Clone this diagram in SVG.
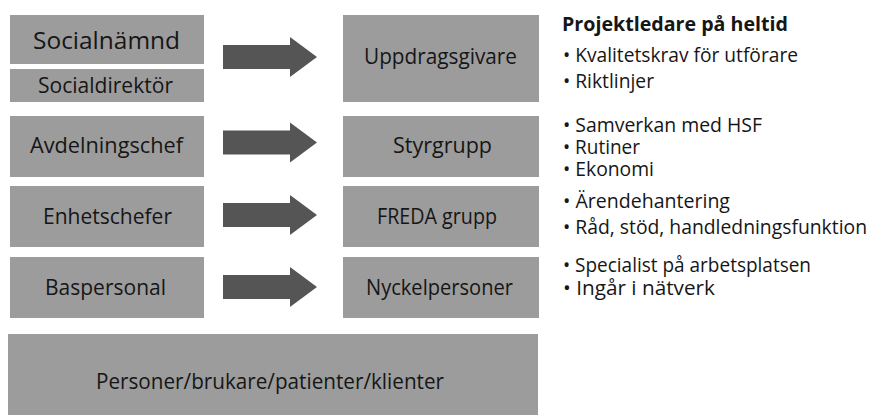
<svg xmlns="http://www.w3.org/2000/svg" width="874" height="415" viewBox="0 0 874 415">
<style>
.box{fill:#9c9c9c}
.lbl{font-family:"Open Sans","Noto Sans","Liberation Sans",sans-serif;fill:#161616;text-anchor:middle}
.bl{font-family:"Open Sans","Noto Sans","Liberation Sans",sans-serif;fill:#161616;font-size:19.5px}
.arrow{fill:#555555}
</style>
<defs>
<path id="arr" d="M0,-12 H67 V-20 L94,0 L67,20 V12 H0 Z"/>
</defs>
<rect width="874" height="415" fill="#ffffff"/>
<g id="socialnamnd"><rect class="box" x="10" y="15" width="194" height="49"/><text class="lbl" x="106.5" y="49" font-size="24.5" textLength="147" lengthAdjust="spacingAndGlyphs">Socialnämnd</text></g>
<g id="socialdirektor"><rect class="box" x="10" y="69" width="194" height="33"/><text class="lbl" x="105.5" y="93" font-size="21" textLength="135" lengthAdjust="spacingAndGlyphs">Socialdirektör</text></g>
<g id="avdelningschef"><rect class="box" x="10" y="116" width="194" height="61"/><text class="lbl" x="106.5" y="153" font-size="21" textLength="153" lengthAdjust="spacingAndGlyphs">Avdelningschef</text></g>
<g id="enhetschefer"><rect class="box" x="10" y="186" width="194" height="61"/><text class="lbl" x="107.5" y="224" font-size="21" textLength="129" lengthAdjust="spacingAndGlyphs">Enhetschefer</text></g>
<g id="baspersonal"><rect class="box" x="10" y="257" width="194" height="61"/><text class="lbl" x="105.5" y="295" font-size="21" textLength="121" lengthAdjust="spacingAndGlyphs">Baspersonal</text></g>
<g id="uppdragsgivare"><rect class="box" x="343" y="15" width="196" height="87"/><text class="lbl" x="440.5" y="64" font-size="21" textLength="153" lengthAdjust="spacingAndGlyphs">Uppdragsgivare</text></g>
<g id="styrgrupp"><rect class="box" x="343" y="116" width="196" height="61"/><text class="lbl" x="442.5" y="153" font-size="21" textLength="99" lengthAdjust="spacingAndGlyphs">Styrgrupp</text></g>
<g id="freda"><rect class="box" x="343" y="186" width="196" height="61"/><text class="lbl" x="437" y="224" font-size="21" textLength="120" lengthAdjust="spacingAndGlyphs">FREDA grupp</text></g>
<g id="nyckelpersoner"><rect class="box" x="343" y="257" width="196" height="61"/><text class="lbl" x="439.5" y="295" font-size="21" textLength="147" lengthAdjust="spacingAndGlyphs">Nyckelpersoner</text></g>
<g id="personer"><rect class="box" x="8" y="334" width="530" height="81"/><text class="lbl" x="270" y="389" font-size="21.5" textLength="348" lengthAdjust="spacingAndGlyphs">Personer/brukare/patienter/klienter</text></g>
<g id="connectors" class="arrow">
<use href="#arr" transform="translate(223,57)"/>
<use href="#arr" transform="translate(223,142.5)"/>
<use href="#arr" transform="translate(223,215)"/>
<use href="#arr" transform="translate(223,287)"/>
</g>
<g id="notes">
<text class="bl" x="562" y="31" font-size="20" font-weight="bold" textLength="226" lengthAdjust="spacingAndGlyphs">Projektledare på heltid</text>
<text class="bl" x="563" y="62" textLength="235" lengthAdjust="spacingAndGlyphs">• Kvalitetskrav för utförare</text>
<text class="bl" x="563" y="88" textLength="91" lengthAdjust="spacingAndGlyphs">• Riktlinjer</text>
<text class="bl" x="563" y="132" textLength="199" lengthAdjust="spacingAndGlyphs">• Samverkan med HSF</text>
<text class="bl" x="563" y="154" textLength="77" lengthAdjust="spacingAndGlyphs">• Rutiner</text>
<text class="bl" x="563" y="176" textLength="91" lengthAdjust="spacingAndGlyphs">• Ekonomi</text>
<text class="bl" x="563" y="208" textLength="167" lengthAdjust="spacingAndGlyphs">• Ärendehantering</text>
<text class="bl" x="563" y="234" textLength="304" lengthAdjust="spacingAndGlyphs">• Råd, stöd, handledningsfunktion</text>
<text class="bl" x="563" y="272" textLength="248" lengthAdjust="spacingAndGlyphs">• Specialist på arbetsplatsen</text>
<text class="bl" x="563" y="295" textLength="152" lengthAdjust="spacingAndGlyphs">• Ingår i nätverk</text>
</g>
</svg>
